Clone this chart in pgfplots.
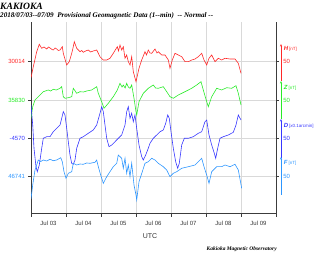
\documentclass[border=0pt]{standalone}
\usepackage{pgfplots}
\pgfplotsset{compat=1.18}
\usetikzlibrary{arrows.meta}
\usepackage{fontspec}
\setmainfont{Liberation Sans}
\newfontfamily\serifbi{Liberation Serif}
\definecolor{hcol}{RGB}{255,40,40}
\definecolor{zcol}{RGB}{40,235,40}
\definecolor{dcol}{RGB}{55,55,255}
\definecolor{fcol}{RGB}{45,150,255}
\definecolor{axcol}{RGB}{60,60,60}
\begin{document}
\begin{tikzpicture}[x=1pt,y=1pt]
\path[use as bounding box] (0,0) rectangle (320,261);
\node[anchor=west, inner sep=0] at (0,254.8) {\resizebox{42.7pt}{!}{\serifbi\bfseries\itshape KAKIOKA}};
\node[anchor=west, inner sep=0] at (0,245) {\resizebox{213pt}{!}{\serifbi\bfseries\itshape 2018/07/03--07/09\ \ Provisional Geomagnetic Data (1--min)\ \ -- Normal --}};
\begin{axis}[at={(31pt,47pt)}, anchor=south west, scale only axis,
  width=245pt, height=192pt,
  xmin=0, xmax=7, ymin=0, ymax=192,
  axis x line*=bottom,
  axis line style={draw=axcol, line width=1pt},
  tick align=outside, major tick length=3pt,
  tick style={draw=axcol, line width=0.6pt},
  xtick={0,1,...,7}, xticklabels={},
  xmajorgrids, ymajorgrids,
  grid style={draw=gray!30, line width=0.7pt},
  extra x ticks={0.5,1.5,2.5,3.5,4.5,5.5,6.5},
  extra x tick labels={Jul 03,Jul 04,Jul 05,Jul 06,Jul 07,Jul 08,Jul 09},
  extra x tick style={major tick length=0pt, xmajorgrids=false,
     xticklabel style={yshift=-3.5pt, text=black!80}},
  ytick={38,75.7,114,152.3},
  yticklabels={\mbox{\color{fcol}46741},\mbox{\color{dcol}-4570},\mbox{\color{zcol}35830},\mbox{\color{hcol}30014}},
  ticklabel style={font=\fontsize{6}{7}\selectfont},
  yticklabel style={xshift=0.5pt},
  every axis plot/.append style={line width=0.6pt},
]
\addplot[hcol] coordinates {
(0.000,136.3)(0.066,147.3)(0.163,162.3)(0.237,169.7)(0.306,165.7)(0.371,167)(0.449,165)(0.50,167)(0.543,166)(0.60,164.5)(0.637,164)(0.69,166)(0.734,165)(0.78,163.5)(0.829,164)(0.894,167.3)(0.923,160.7)(1.020,149)(1.094,152.3)(1.163,160.7)(1.2,166)(1.237,172.3)(1.306,165.7)(1.4,162.3)(1.45,163.5)(1.494,161.7)(1.56,163)(1.637,164)(1.70,162)(1.780,163)(1.877,164)(1.971,157.3)(2.066,154)(2.163,154)(2.257,155.7)(2.351,160.7)(2.466,167.3)(2.50,163)(2.543,169)(2.591,164)(2.637,167.3)(2.686,155.7)(2.734,159)(2.780,152.3)(2.829,149)(2.877,157.3)(2.923,142.3)(3.0,132.3)(3.086,145.7)(3.163,154)(3.257,162.3)(3.30,159)(3.351,164)(3.40,161)(3.449,160.7)(3.50,163)(3.543,165)(3.60,161)(3.637,162.3)(3.734,159)(3.829,159)(3.923,154)(3.971,145.7)(4.037,154)(4.114,160.7)(4.209,159)(4.306,157.3)(4.4,152.3)(4.494,152.3)(4.591,154)(4.686,155)(4.780,157.3)(4.877,160.7)(4.943,154)(5.020,149)(5.086,155.7)(5.163,159)(5.257,152.3)(5.351,155.7)(5.449,154)(5.543,155.7)(5.686,155)(5.829,155)(5.923,150.7)(6.0,140.7)
};
\addplot[zcol] coordinates {
(0,95.7)(0.049,107.3)(0.114,114)(0.209,117.3)(0.351,122.3)(0.494,124)(0.56,123)(0.637,124.7)(0.72,124)(0.829,125.7)(0.877,127.3)(0.923,117.3)(0.971,115.7)(1.066,116.3)(1.163,117.3)(1.209,125.7)(1.306,120.7)(1.4,122.3)(1.50,122)(1.591,123)(1.734,124)(1.877,127.3)(1.923,120.7)(2.020,112.3)(2.086,105.7)(2.209,110.7)(2.351,117.3)(2.466,124)(2.543,130.7)(2.60,127)(2.637,129)(2.69,126)(2.734,130.7)(2.78,127)(2.829,125.7)(2.877,129)(2.943,115.7)(3.0,102.3)(3.02,99)(3.086,112.3)(3.209,120.7)(3.351,125.7)(3.494,129)(3.56,126)(3.637,125.7)(3.780,127.3)(3.877,122.3)(3.971,117.3)(4.066,115.7)(4.209,119)(4.4,122.3)(4.591,125.7)(4.734,129)(4.857,132.3)(4.923,124)(4.991,115.7)(5.066,107.3)(5.163,117.3)(5.306,125.7)(5.449,124)(5.591,126.3)(5.734,125.7)(5.857,128.3)(5.923,120.7)(6.0,109)
};
\addplot[dcol] coordinates {
(0,109)(0.049,89)(0.086,65.7)(0.143,47.3)(0.18,42.3)(0.237,49)(0.306,65.7)(0.351,75.7)(0.449,77.3)(0.543,77.3)(0.637,82.3)(0.734,85.7)(0.829,89)(0.877,95.7)(0.923,102.3)(0.971,99)(1.020,85.7)(1.066,72.3)(1.114,59)(1.163,50.7)(1.209,49.7)(1.257,54)(1.306,65.7)(1.4,75.7)(1.494,77.3)(1.637,80.7)(1.780,84)(1.877,89)(1.971,100.7)(2.020,107.3)(2.066,102.3)(2.114,89)(2.163,75.7)(2.229,67.3)(2.306,69)(2.4,72.3)(2.494,75.7)(2.591,79)(2.686,89)(2.734,102.3)(2.780,107.3)(2.829,95.7)(2.877,100.7)(2.923,92.3)(2.971,99)(3.02,85.7)(3.086,69)(3.163,57.3)(3.209,54)(3.277,59)(3.351,65.7)(3.4,70.7)(3.494,75.7)(3.591,79)(3.686,82.3)(3.780,84)(3.849,90.7)(3.906,99)(3.951,95.7)(4.0,82.3)(4.066,65.7)(4.134,52.3)(4.191,45.7)(4.237,50.7)(4.306,69)(4.380,75.7)(4.494,75.7)(4.637,77.3)(4.780,80.7)(4.877,82.3)(4.971,92.3)(5.020,94)(5.086,79)(5.163,69)(5.237,60.7)(5.277,55.7)(5.334,65.7)(5.4,75.7)(5.494,77.3)(5.637,79)(5.780,81.7)(5.857,89)(5.923,99)(6.0,94)
};
\addplot[fcol] coordinates {
(0,15)(0.049,29)(0.114,44)(0.209,54)(0.28,52.5)(0.351,54)(0.449,53)(0.543,54.7)(0.637,53.3)(0.734,54)(0.849,56.3)(0.894,52.3)(0.943,42.3)(1.0,35.7)(1.066,40.7)(1.163,42.3)(1.209,50.7)(1.306,49)(1.4,50)(1.494,49.7)(1.591,51)(1.686,50.7)(1.829,51.7)(1.877,54)(1.923,47.3)(1.991,39)(2.066,30.7)(2.163,37.3)(2.257,42.3)(2.351,47.3)(2.449,50.7)(2.494,59)(2.591,55.7)(2.637,45.7)(2.686,55.7)(2.734,40.7)(2.780,49)(2.829,37.3)(2.877,50.7)(2.943,29)(3.0,19)(3.02,14)(3.086,32.3)(3.18,42.3)(3.257,50.7)(3.351,52.3)(3.449,55.7)(3.543,54)(3.637,50.7)(3.780,47.3)(3.877,44)(3.971,37.3)(4.066,40.7)(4.163,42.3)(4.306,45.7)(4.494,47.3)(4.686,49)(4.829,54)(4.877,55.7)(4.943,47.3)(5.020,39)(5.086,30.7)(5.163,42.3)(5.306,47.3)(5.449,47.3)(5.543,49)(5.686,47.3)(5.829,49.7)(5.923,44)(6.02,25.7)
};
\end{axis}
% scale bars on the right
\begin{scope}[line width=0.6pt, font=\fontsize{6}{7}\selectfont]
\draw[hcol,-{Stealth[length=2.5pt,width=2pt]}] (281,180) -- (281,217);
\draw[zcol,-{Stealth[length=2.5pt,width=2pt]}] (281,142) -- (281,180);
\draw[dcol,-{Stealth[length=2.5pt,width=2pt]}] (281,103) -- (281,142);
\draw[fcol,-{Stealth[length=2.5pt,width=2pt]}] (281,66) -- (281,104);
\node[anchor=west,inner sep=0,hcol] at (283.5,211.7) {\textbf{\textit{H}}\,{\fontsize{4.5}{5}\selectfont[nT]}};
\node[anchor=west,inner sep=0,zcol] at (283.5,173.3) {\textbf{\textit{Z}}\,{\fontsize{4.5}{5}\selectfont[nT]}};
\node[anchor=west,inner sep=0,dcol] at (283.5,135.3) {\textbf{\textit{D}}\,{\fontsize{4.5}{5}\selectfont[x0.1arcmin]}};
\node[anchor=west,inner sep=0,fcol] at (283.5,97.7) {\textbf{\textit{F}}\,{\fontsize{4.5}{5}\selectfont[nT]}};
\node[anchor=west,inner sep=0,hcol] at (283,199.3) {50};
\node[anchor=west,inner sep=0,zcol] at (283,161) {50};
\node[anchor=west,inner sep=0,dcol] at (283,122.7) {50};
\node[anchor=west,inner sep=0,fcol] at (283,85) {50};
\end{scope}
\node[font=\fontsize{7}{8}\selectfont, text=black!80] at (150,25) {UTC};
\node[inner sep=0] at (241.7,12) {\resizebox{70pt}{!}{\serifbi\bfseries\itshape Kakioka Magnetic Observatory}};
\end{tikzpicture}
\end{document}
